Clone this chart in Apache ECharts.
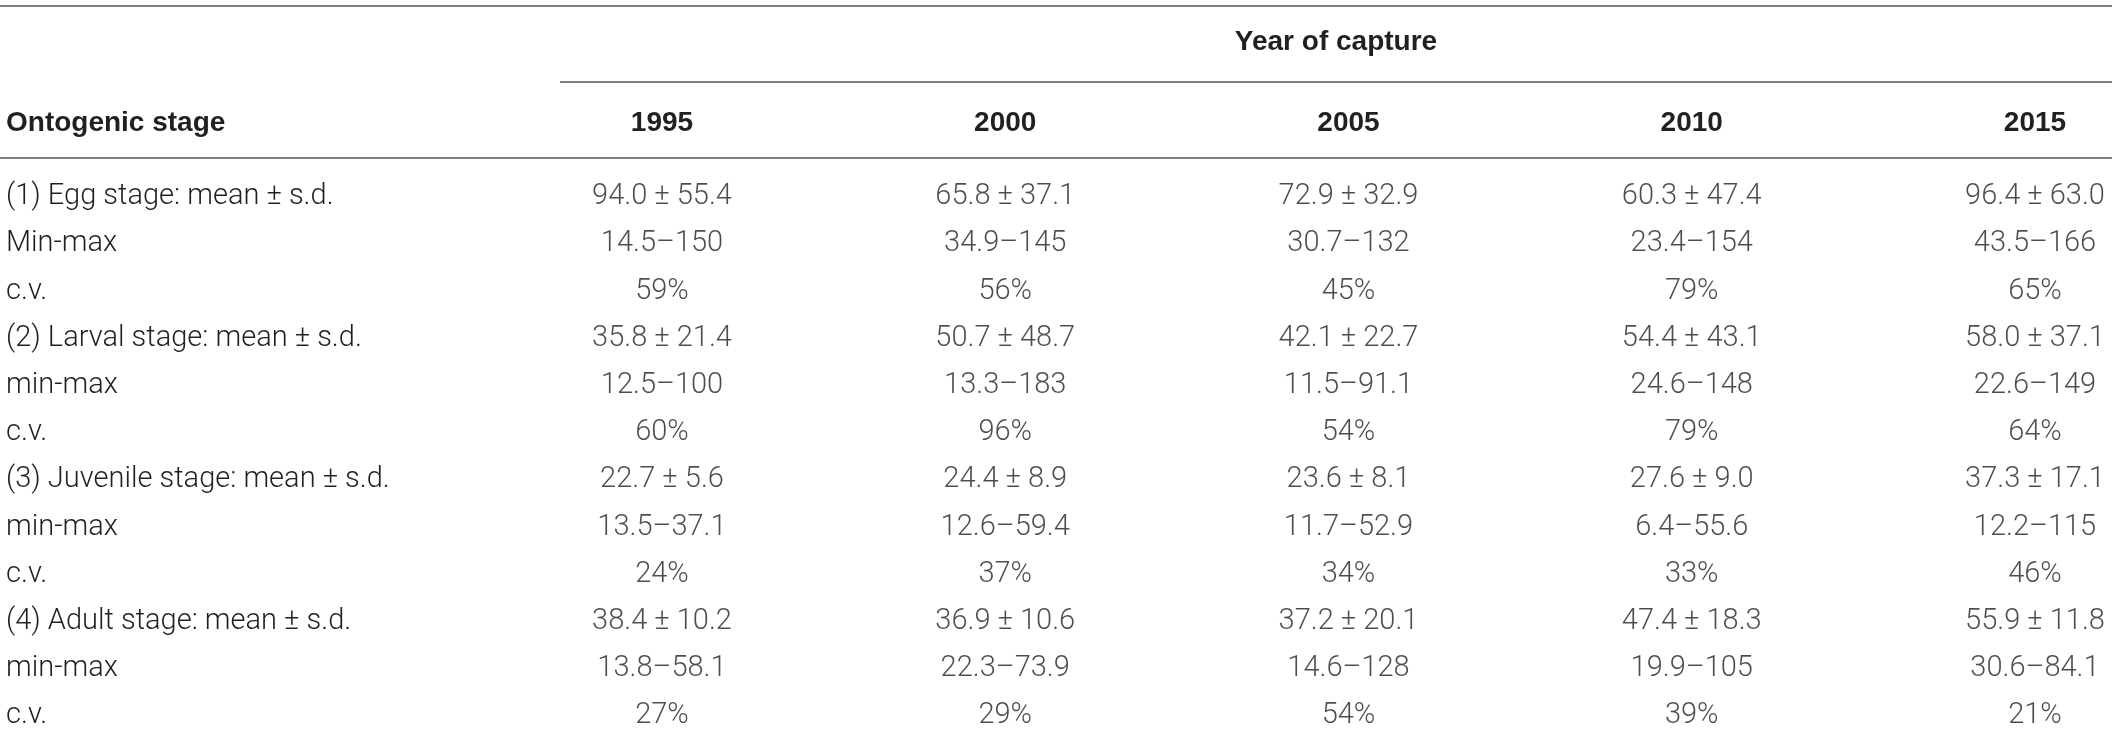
<!doctype html>
<html>
<head>
<meta charset="utf-8" />
<style>
html, body { margin: 0; padding: 0; background: #ffffff; }
#chart { width: 2117px; height: 731px; }
</style>
<script src="https://cdn.jsdelivr.net/npm/echarts@6/dist/echarts.min.js"></script>
</head>
<body>
<div id="chart"></div>
<script>
// Table values, one small array per stage and statistic.
const years = ['1995', '2000', '2005', '2010', '2015'];
const rowLabels = [
  '(1) Egg stage: mean \u00b1 s.d.', 'Min-max', 'c.v.',
  '(2) Larval stage: mean \u00b1 s.d.', 'min-max', 'c.v.',
  '(3) Juvenile stage: mean \u00b1 s.d.', 'min-max', 'c.v.',
  '(4) Adult stage: mean \u00b1 s.d.', 'min-max', 'c.v.'
];

const eggMean = [94.0, 65.8, 72.9, 60.3, 96.4];
const eggSd = [55.4, 37.1, 32.9, 47.4, 63.0];
const eggMin = [14.5, 34.9, 30.7, 23.4, 43.5];
const eggMax = [150, 145, 132, 154, 166];
const eggCv = [59, 56, 45, 79, 65];

const larvalMean = [35.8, 50.7, 42.1, 54.4, 58.0];
const larvalSd = [21.4, 48.7, 22.7, 43.1, 37.1];
const larvalMin = [12.5, 13.3, 11.5, 24.6, 22.6];
const larvalMax = [100, 183, 91.1, 148, 149];
const larvalCv = [60, 96, 54, 79, 64];

const juvenileMean = [22.7, 24.4, 23.6, 27.6, 37.3];
const juvenileSd = [5.6, 8.9, 8.1, 9.0, 17.1];
const juvenileMin = [13.5, 12.6, 11.7, 6.4, 12.2];
const juvenileMax = [37.1, 59.4, 52.9, 55.6, 115];
const juvenileCv = [24, 37, 34, 33, 46];

const adultMean = [38.4, 36.9, 37.2, 47.4, 55.9];
const adultSd = [10.2, 10.6, 20.1, 18.3, 11.8];
const adultMin = [13.8, 22.3, 14.6, 19.9, 30.6];
const adultMax = [58.1, 73.9, 128, 105, 84.1];
const adultCv = [27, 29, 54, 39, 21];

const stages = [
  [eggMean, eggSd, eggMin, eggMax, eggCv],
  [larvalMean, larvalSd, larvalMin, larvalMax, larvalCv],
  [juvenileMean, juvenileSd, juvenileMin, juvenileMax, juvenileCv],
  [adultMean, adultSd, adultMin, adultMax, adultCv]
];

// Build one labelled cell per (year, row).
const cells = [];
stages.forEach((s, si) => {
  const [mean, sd, mn, mx, cv] = s;
  years.forEach((y, yi) => {
    cells.push([yi, si * 3, mean[yi].toFixed(1) + ' \u00b1 ' + sd[yi].toFixed(1)]);
    cells.push([yi, si * 3 + 1, String(mn[yi]) + '\u2013' + String(mx[yi])]);
    cells.push([yi, si * 3 + 2, cv[yi] + '%']);
  });
});

const textColor = '#231f20';
const ruleColor = '#7f7f7f';
const bodyFont = { fontFamily: 'Roboto', fontWeight: 300, fontSize: 29, color: textColor };
const headFont = { fontFamily: 'Liberation Sans', fontWeight: 'bold', fontSize: 28, color: textColor };

const chart = echarts.init(document.getElementById('chart'), null, { renderer: 'canvas' });
chart.setOption({
  animation: false,
  backgroundColor: '#ffffff',
  grid: { left: 662, right: 82, top: 197, bottom: 15 },
  xAxis: {
    type: 'category',
    data: years,
    position: 'top',
    boundaryGap: false,
    axisLine: { show: false },
    axisTick: { show: false },
    splitLine: { show: false },
    axisLabel: Object.assign({ margin: 74, verticalAlign: 'middle', interval: 0 }, headFont)
  },
  yAxis: {
    type: 'category',
    data: rowLabels,
    inverse: true,
    boundaryGap: false,
    axisLine: { show: false },
    axisTick: { show: false },
    splitLine: { show: false },
    axisLabel: Object.assign({ margin: 656, align: 'left', interval: 0 }, bodyFont)
  },
  series: [{
    type: 'scatter',
    symbolSize: 0,
    data: cells,
    label: Object.assign({
      show: true,
      position: 'inside',
      formatter: p => p.value[2]
    }, bodyFont)
  }],
  graphic: [
    { type: 'line', shape: { x1: 0, y1: 6, x2: 2112, y2: 6 }, style: { stroke: ruleColor, lineWidth: 2 } },
    { type: 'line', shape: { x1: 560, y1: 82, x2: 2112, y2: 82 }, style: { stroke: ruleColor, lineWidth: 2 } },
    { type: 'line', shape: { x1: 0, y1: 158, x2: 2112, y2: 158 }, style: { stroke: ruleColor, lineWidth: 2 } },
    {
      type: 'text', x: 1336, y: 42,
      style: Object.assign({ text: 'Year of capture', textAlign: 'center', textVerticalAlign: 'middle' },
        { font: 'bold 28px "Liberation Sans"', fill: textColor })
    },
    {
      type: 'text', x: 6, y: 123,
      style: { text: 'Ontogenic stage', textAlign: 'left', textVerticalAlign: 'middle',
        font: 'bold 28px "Liberation Sans"', fill: textColor }
    }
  ]
});
</script>
</body>
</html>
